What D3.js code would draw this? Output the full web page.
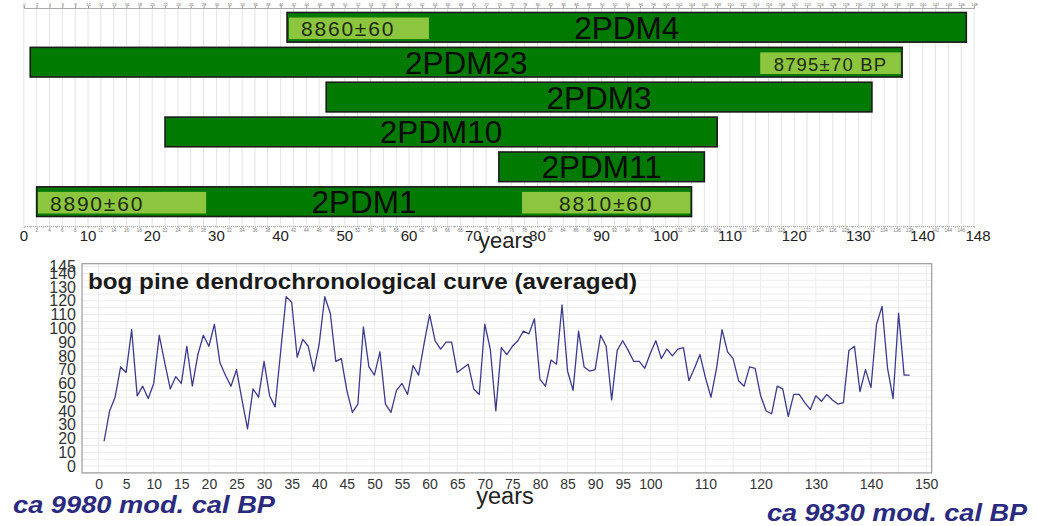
<!DOCTYPE html>
<html><head><meta charset="utf-8">
<script src="https://cdn.jsdelivr.net/npm/d3@7"></script>
<style>
html,body{margin:0;padding:0;background:#fff;}
svg{display:block;font-family:"Liberation Sans",Arial,sans-serif;}
</style></head>
<body><svg id="c" width="1038" height="526"></svg>
<script>
// ---------- DATA ----------
const samples = ["2PDM4","2PDM23","2PDM3","2PDM10","2PDM11","2PDM1"];
const sampleStart = [41, 1, 47.1, 22, 74, 2];
const sampleEnd   = [146.8, 136.8, 132.1, 108, 106, 104];

const datingLabels = ["8860\u00b160","8795\u00b170 BP","8890\u00b160","8810\u00b160"];
const datingSample = ["2PDM4","2PDM23","2PDM1","2PDM1"];
const datingStart  = [41.3, 114.7, 2.2, 77.6];
const datingEnd    = [63.1, 136.6, 28.4, 103.8];

const topMajorTicks = [0,10,20,30,40,50,60,70,80,90,100,110,120,130,140,148];

const firstYear = 1;
const ringValues = [18,40,50,72,68,99,51,58,49,60,95,75,56,65,60,87,58,81,95,87,
  103,75,66,58,70,48,27,56,50,76,51,43,83,123,119,79,92,87,69,89,
  123,111,76,78,55,39,45,101,72,66,83,45,39,55,60,52,73,66,89,110,
  91,85,90,90,68,71,74,56,52,103,85,40,86,81,87,91,98,96,107,63,
  58,77,74,117,69,55,98,72,69,70,95,87,48,84,91,84,76,76,71,82,
  91,78,85,80,85,86,62,71,81,64,50,71,99,83,78,62,58,72,71,51,
  40,38,58,56,36,52,52,46,41,51,47,52,48,45,46,84,87,54,70,57,
  103,116,71,49,111,66,66];

const yTicks = [0,10,20,30,40,50,60,70,80,90,100,110,120,130,140,145];
const xTicks = [0,5,10,15,20,25,30,35,40,45,50,55,60,65,70,75,80,85,90,95,100,110,120,130,140,150];

const chartTitle = "bog pine dendrochronological curve (averaged)";
const leftNote = "ca 9980 mod. cal BP";
const rightNote = "ca 9830 mod. cal BP";

// ---------- STYLE ----------
const darkGreen = "#007a00", lightGreen = "#8cc63f", lineColor = "#3b3a8e", noteColor = "#2a2a7e";
const labelAnchor = {"8860\u00b160":"start","8890\u00b160":"start"};

const svg = d3.select("#c");

// ================= TOP CHART =================
const xt = d3.scaleLinear().domain([0,148]).range([23.8, 974]);
const yb = d3.scaleBand().domain(samples).range([12.5, 216.5]).paddingInner(0.15).paddingOuter(0);

// vertical grid every 2 units
const gridVals = d3.range(0, 149, 2);
svg.append("g").selectAll("line").data(gridVals).join("line")
  .attr("x1", d=>xt(d)).attr("x2", d=>xt(d)).attr("y1", 8).attr("y2", 226)
  .attr("stroke", "#e4e4e4").attr("stroke-width", 1);

// top tiny axis
const topAx = svg.append("g").attr("transform","translate(0,8)")
  .call(d3.axisTop(xt).tickValues(d3.range(0,149,2)).tickSize(2).tickFormat(d3.format("d")));
topAx.select(".domain").attr("stroke","#aaa");
topAx.selectAll(".tick line").attr("stroke","#999");
topAx.selectAll(".tick text").attr("font-size",4).attr("fill","#666").attr("y",-2.5).attr("dy","0");

// bottom axis of top chart
const botAx = svg.append("g").attr("transform","translate(0,226)")
  .call(d3.axisBottom(xt).tickValues(d3.range(0,149,1)).tickSize(2).tickFormat(""));
botAx.select(".domain").attr("stroke","#999").attr("stroke-dasharray","1,1");
botAx.selectAll(".tick line").attr("stroke","#bbb");
// minor labels
const minorVals = d3.range(2,148,2).filter(v=>v%10!==0);
svg.append("g").selectAll("text").data(minorVals).join("text")
  .attr("x", d=>xt(d)).attr("y", 232).attr("text-anchor","middle")
  .attr("font-size",4.5).attr("fill","#777").text(d=>d);
svg.append("g").selectAll("text").data(topMajorTicks).join("text")
  .attr("x", d=>xt(d)+ (d===148?4:0)).attr("y", 241).attr("text-anchor","middle")
  .attr("font-size",15).attr("fill","#222").text(d=>d);
svg.append("text").attr("x",506).attr("y",248).attr("text-anchor","middle")
  .attr("font-size",22).attr("fill","#222").text("years");

// bars
const bars = samples.map((s,i)=>({s, a:sampleStart[i], b:sampleEnd[i]}));
svg.append("g").selectAll("rect").data(bars).join("rect")
  .attr("x", d=>xt(d.a)).attr("y", d=>yb(d.s))
  .attr("width", d=>xt(d.b)-xt(d.a)).attr("height", yb.bandwidth())
  .attr("fill", darkGreen).attr("stroke","#1a1a1a").attr("stroke-width",1.6);

const dates = datingLabels.map((l,i)=>({l, s:datingSample[i], a:datingStart[i], b:datingEnd[i]}));
svg.append("g").selectAll("rect").data(dates).join("rect")
  .attr("x", d=>xt(d.a)).attr("y", d=>yb(d.s)+5)
  .attr("width", d=>xt(d.b)-xt(d.a)).attr("height", yb.bandwidth()-8)
  .attr("fill", lightGreen);
svg.append("g").selectAll("text").data(dates).join("text")
  .attr("x", d=> labelAnchor[d.l]==="start" ? xt(d.a)+12 : (xt(d.a)+xt(d.b))/2)
  .attr("y", d=>yb(d.s)+yb.bandwidth()-6)
  .attr("text-anchor", d=>labelAnchor[d.l]||"middle")
  .attr("font-size", d=>d.l.length>8?18.5:21).attr("fill","#1e2a10")
  .attr("letter-spacing", d=>d.l.length>8?1.2:1.8)
  .text(d=>d.l);

svg.append("g").selectAll("text").data(bars).join("text")
  .attr("x", d=>(xt(d.a)+xt(d.b))/2).attr("y", d=>yb(d.s)+yb.bandwidth()/2+11.5)
  .attr("text-anchor","middle").attr("font-size",31.5).attr("fill","#0a0a0a")
  .text(d=>d.s);

// ================= BOTTOM CHART =================
const xl = d3.scaleLinear().domain([-3,151]).range([82, 931.7]);
const yl = d3.scaleLinear().domain([-5,147]).range([472.9, 263.7]);

// grid
svg.append("g").selectAll("line").data(d3.range(-5,146,5)).join("line")
  .attr("x1",xl(-3)).attr("x2",xl(151)).attr("y1",d=>yl(d)).attr("y2",d=>yl(d))
  .attr("stroke","#ececec");
svg.append("g").selectAll("line").data(d3.range(0,151,5)).join("line")
  .attr("y1",yl(-5)).attr("y2",yl(147)).attr("x1",d=>xl(d)).attr("x2",d=>xl(d))
  .attr("stroke","#ececec");
svg.append("rect").attr("x",xl(-3)).attr("y",yl(147)).attr("width",xl(151)-xl(-3))
  .attr("height",yl(-5)-yl(147)).attr("fill","none").attr("stroke","#9a9a9a").attr("stroke-width",1.2);

// y axis labels
const yAx = svg.append("g").attr("transform",`translate(${xl(-3)},0)`)
  .call(d3.axisLeft(yl).tickValues(yTicks).tickSize(0).tickPadding(6));
yAx.select(".domain").remove();
yAx.selectAll("text").attr("font-size",16).attr("fill","#333").attr("font-family","Liberation Sans, Arial, sans-serif");

const xAx = svg.append("g").attr("transform",`translate(0,${yl(-5)})`)
  .call(d3.axisBottom(xl).tickValues(xTicks).tickSize(0).tickPadding(6));
xAx.select(".domain").remove();
xAx.selectAll("text").attr("font-size",14).attr("fill","#333").attr("font-family","Liberation Sans, Arial, sans-serif");

svg.append("text").attr("x",505).attr("y",504).attr("text-anchor","middle")
  .attr("font-size",23.5).attr("fill","#222").text("years");

// title
svg.append("text").attr("x",88).attr("y",289).attr("font-size",22.5).attr("font-weight","bold")
  .attr("fill","#1a1a1a").attr("textLength",549).attr("lengthAdjust","spacingAndGlyphs").text(chartTitle);

// line
const line = d3.line().x((d,i)=>xl(firstYear+i)).y(d=>yl(d));
svg.append("path").datum(ringValues).attr("d",line).attr("fill","none")
  .attr("stroke",lineColor).attr("stroke-width",1.3).attr("stroke-linejoin","round");

// notes
svg.append("text").attr("x",13).attr("y",513).attr("font-size",23).attr("font-weight","bold")
  .attr("font-style","italic").attr("fill",noteColor).attr("textLength",262)
  .attr("lengthAdjust","spacingAndGlyphs").text(leftNote);
svg.append("text").attr("x",767).attr("y",521).attr("font-size",23).attr("font-weight","bold")
  .attr("font-style","italic").attr("fill",noteColor).attr("textLength",260)
  .attr("lengthAdjust","spacingAndGlyphs").text(rightNote);
</script></body></html>
